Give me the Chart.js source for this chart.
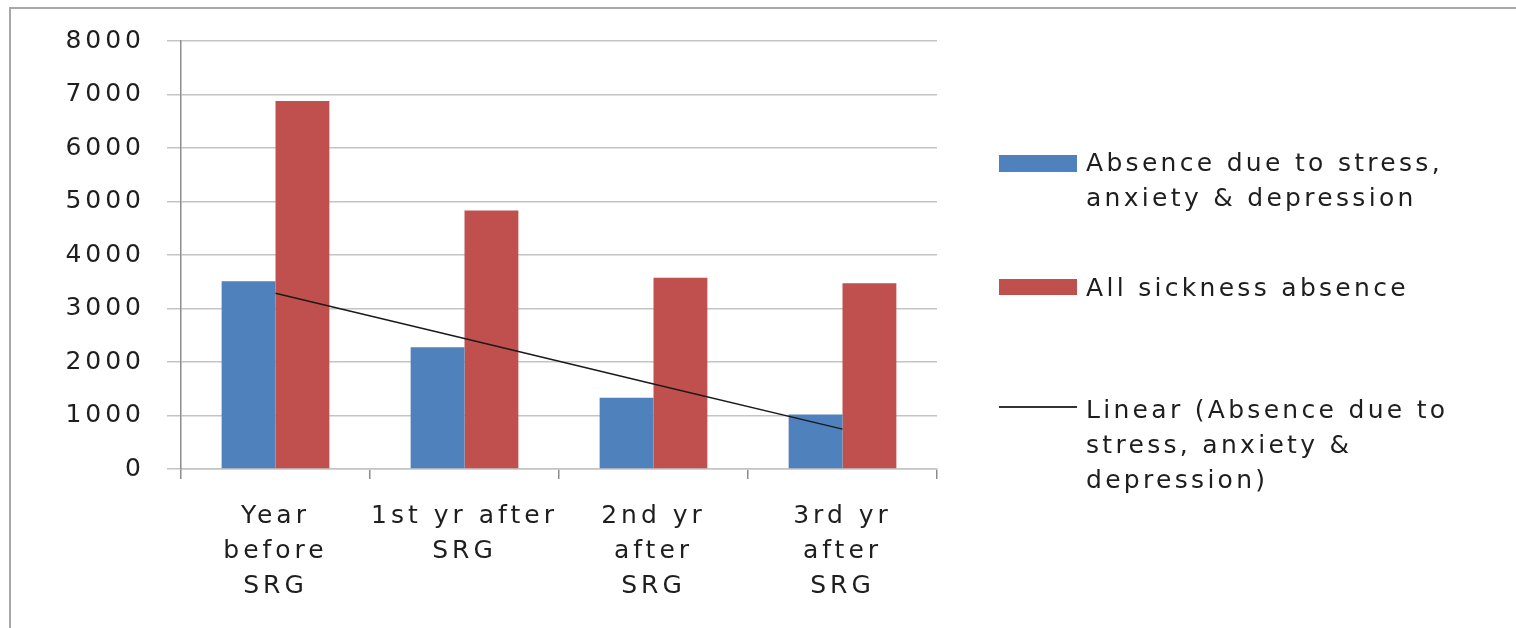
<!DOCTYPE html>
<html>
<head>
<meta charset="utf-8">
<script src="https://cdn.jsdelivr.net/npm/chart.js@4"></script>
<style>
  html, body { margin: 0; padding: 0; background: #fff; overflow: hidden; }
  body { width: 1516px; height: 628px; position: relative; font-family: "DejaVu Sans", sans-serif; color: #1e1e1e; }
  #frame { position: absolute; left: 9px; top: 7px; right: 0; bottom: 0; border-left: 2px solid #a8a8a8; border-top: 2px solid #a8a8a8; }
  #chart { position: absolute; left: 0; top: 0; }
  .sw { position: absolute; left: 999px; width: 78px; }
  .lt { position: absolute; left: 1086px; font-size: 25px; line-height: 35px; letter-spacing: 3.3px; white-space: nowrap; }
</style>
</head>
<body>
<div id="frame"></div>
<canvas id="chart" width="1516" height="628"></canvas>
<div id="legend"></div>
<script>
const categories = [["Year", "before", "SRG"], ["1st yr after", "SRG"], ["2nd yr", "after", "SRG"], ["3rd yr", "after", "SRG"]];
const stressAbsence = [3510, 2275, 1330, 1020];
const allSickness = [6880, 4830, 3575, 3470];
const trendLine = [3285, 2440, 1590, 745];
const seriesNames = [
  ["Absence due to stress,", "anxiety & depression"],
  ["All sickness absence"],
  ["Linear (Absence due to", "stress, anxiety &", "depression)"]
];
const yMin = 0, yMax = 8000, yStep = 1000;

const blue = "#4f81bd";
const red = "#c0504d";

// the picture's text is drawn wide, so space the letters out a bit
const spacing = {
  id: "spacing",
  beforeUpdate(c) { c.ctx.letterSpacing = "4px"; },
  beforeLayout(c) { c.ctx.letterSpacing = "4px"; },
  beforeDraw(c) { c.ctx.letterSpacing = "4px"; }
};

const tickFont = { family: "DejaVu Sans", size: 25, lineHeight: 1.4 };

new Chart(document.getElementById("chart"), {
  type: "bar",
  data: {
    labels: categories,
    datasets: [
      { label: seriesNames[0].join(" "), data: stressAbsence, backgroundColor: blue, order: 1 },
      { label: seriesNames[1].join(" "), data: allSickness, backgroundColor: red, order: 1 },
      {
        type: "line", label: seriesNames[2].join(" "), data: trendLine,
        borderColor: "#1a1a1a", borderWidth: 1.5, pointRadius: 0, fill: false, tension: 0, order: 0
      }
    ]
  },
  options: {
    responsive: false,
    animation: false,
    layout: { padding: { left: 0, top: 41, right: 579, bottom: 0 } },
    datasets: { bar: { categoryPercentage: 0.57, barPercentage: 1 } },
    plugins: { legend: { display: false }, tooltip: { enabled: false } },
    scales: {
      x: {
        grid: { drawOnChartArea: false, drawTicks: true, tickLength: 10, color: "#8c8c8c", lineWidth: 1.5, offset: true },
        border: { color: "#c4c4c4", width: 1.5 },
        ticks: { font: tickFont, color: "#1e1e1e", padding: 20, maxRotation: 0, autoSkip: false },
        afterFit(s) { s.height = 628 - 469; }
      },
      y: {
        min: yMin, max: yMax,
        grid: { color: "#c4c4c4", lineWidth: 1.5, tickLength: 14 },
        border: { color: "#8c8c8c", width: 1.5 },
        ticks: { stepSize: yStep, font: tickFont, color: "#1e1e1e", padding: 22, callback: v => String(v) },
        afterFit(s) { s.width = 181; }
      }
    }
  },
  plugins: [spacing]
});

// legend on the right, wrapped like the original
const legend = document.getElementById("legend");
const legendRows = [
  { top: 145, mark: { top: 155, height: 17, color: blue }, lines: seriesNames[0] },
  { top: 270, mark: { top: 279, height: 16, color: red }, lines: seriesNames[1] },
  { top: 392, mark: { top: 406, height: 1.5, color: "#333" }, lines: seriesNames[2] }
];
legendRows.forEach(r => {
  const sw = document.createElement("div");
  sw.className = "sw";
  sw.style.top = r.mark.top + "px";
  sw.style.height = r.mark.height + "px";
  sw.style.background = r.mark.color;
  legend.appendChild(sw);
  const t = document.createElement("div");
  t.className = "lt";
  t.style.top = r.top + "px";
  r.lines.forEach((l, i) => {
    if (i) t.appendChild(document.createElement("br"));
    t.appendChild(document.createTextNode(l));
  });
  legend.appendChild(t);
});
</script>
</body>
</html>
